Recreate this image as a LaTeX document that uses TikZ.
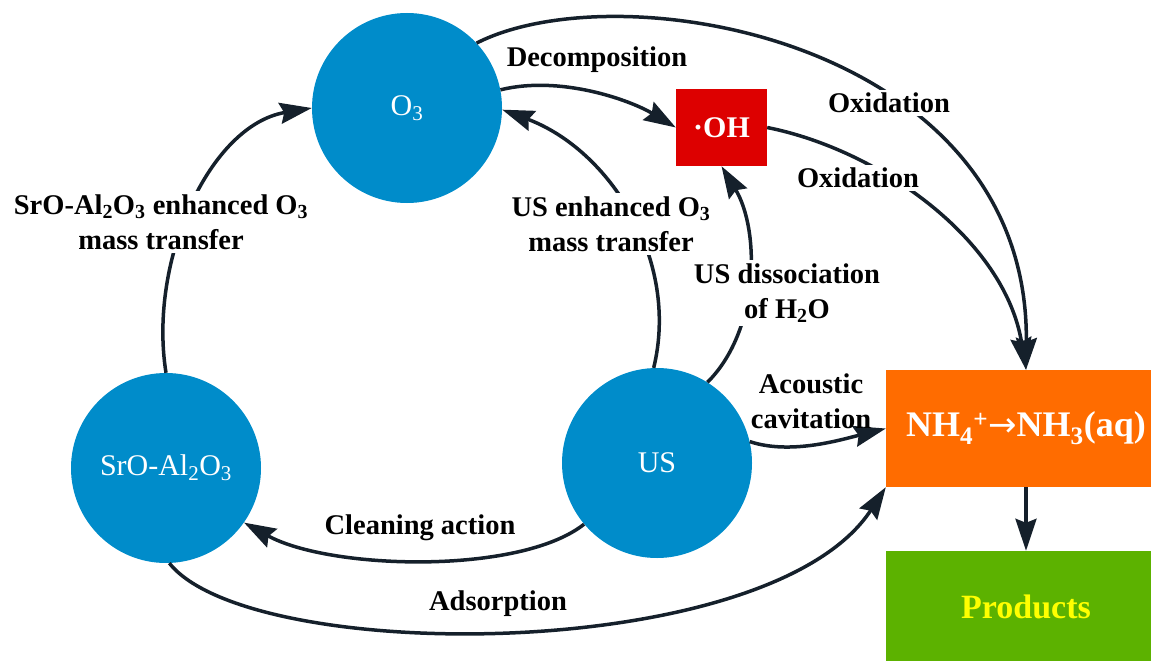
\documentclass[tikz,border=0pt]{standalone}
\usepackage{fontspec}
\setmainfont{Liberation Serif}
\newfontfamily\arrowfont{DejaVu Sans}
\usetikzlibrary{arrows.meta}
\definecolor{cblue}{RGB}{0,140,202}
\definecolor{cred}{RGB}{221,0,0}
\definecolor{corange}{RGB}{255,108,0}
\definecolor{cgreen}{RGB}{92,178,0}
\definecolor{cyellow}{RGB}{255,255,0}
\definecolor{arrowc}{RGB}{21,32,43}
\begin{document}
\begin{tikzpicture}[x=1pt,y=1pt,
  conn/.style={draw=arrowc, line width=3.5pt, -{Stealth[length=32pt,width=21pt,inset=4pt]}},
  lbl/.style={font=\fontsize{28.5}{35}\selectfont\bfseries, align=center, text=black, inner sep=3pt},
  lblw/.style={lbl, fill=white},
  circ/.style={circle, fill=cblue, minimum size=190pt, inner sep=0pt, text=white, font=\fontsize{30}{34}\selectfont},
  sqbox/.style={rectangle, inner sep=0pt, text=white, font=\fontsize{30}{34}\selectfont\bfseries}
  ]
\useasboundingbox (0,0) rectangle (1151,-661);
\clip (0,0) rectangle (1151,-661);

\node[circ] (o3) at (407,-108) {O\textsubscript{3}};
\node[circ] (sro) at (166,-468) {SrO-Al\textsubscript{2}O\textsubscript{3}};
\node[circ] (us) at (657,-463) {US};
\node[sqbox, fill=cred, minimum width=91pt, minimum height=77pt] (oh) at (721.5,-127.5) {·OH};
\node[sqbox, fill=corange, minimum width=280pt, minimum height=117pt, font=\fontsize{36}{40}\selectfont\bfseries] (nh4) at (1026,-428.5) {NH\textsubscript{4}\textsuperscript{+}{\arrowfont\mdseries\fontsize{34}{40}\selectfont →}NH\textsubscript{3}(aq)};
\node[sqbox, fill=cgreen, minimum width=280pt, minimum height=112pt, text=cyellow, font=\fontsize{34}{38}\selectfont\bfseries] (prod) at (1026,-607) {Products};

\draw[conn] (o3.43) .. controls (620,30) and (1030,-40) .. (nh4.north);
\draw[conn] (oh.east) .. controls (880,-150) and (1005,-240) .. (nh4.north);
\draw[conn] (o3.11) .. controls (560,-75) and (630,-100) .. (oh.west);
\draw[conn] (us.92) .. controls (680,-260) and (610,-150) .. (o3.-1);
\draw[conn] (us.58) .. controls (760,-330) and (760,-230) .. (oh.south);
\draw[conn] (sro.north) .. controls (148,-260) and (210,-125) .. (o3.west);
\draw[conn] (us.220) .. controls (520,-575) and (330,-570) .. (sro.-35);
\draw[conn] (sro.-88) .. controls (250,-665) and (770,-665) .. (nh4.south west);
\draw[conn] (us.13) .. controls (790,-455) and (840,-440) .. (nh4.west);
\draw[conn] (nh4.south) -- (prod.north);

\node[lblw] (l1) at (889,-103) {Oxidation};
\node[lblw] (l2) at (858,-178) {Oxidation};
\node[lbl] (l3) at (597,-60) {Decomposition};
\node[lblw] (l4) at (611,-224) {US enhanced O\textsubscript{3}\\mass transfer};
\node[lblw] (l5) at (787,-293) {US dissociation\\of H\textsubscript{2}O};
\node[lblw] (l6) at (161,-222) {SrO-Al\textsubscript{2}O\textsubscript{3} enhanced O\textsubscript{3}\\mass transfer};
\node[lbl] (l7) at (420,-528) {Cleaning action};
\node[lbl] (l8) at (498,-604) {Adsorption};
\node[lbl] (l9) at (811,-401) {Acoustic\\cavitation};
\end{tikzpicture}
\end{document}
